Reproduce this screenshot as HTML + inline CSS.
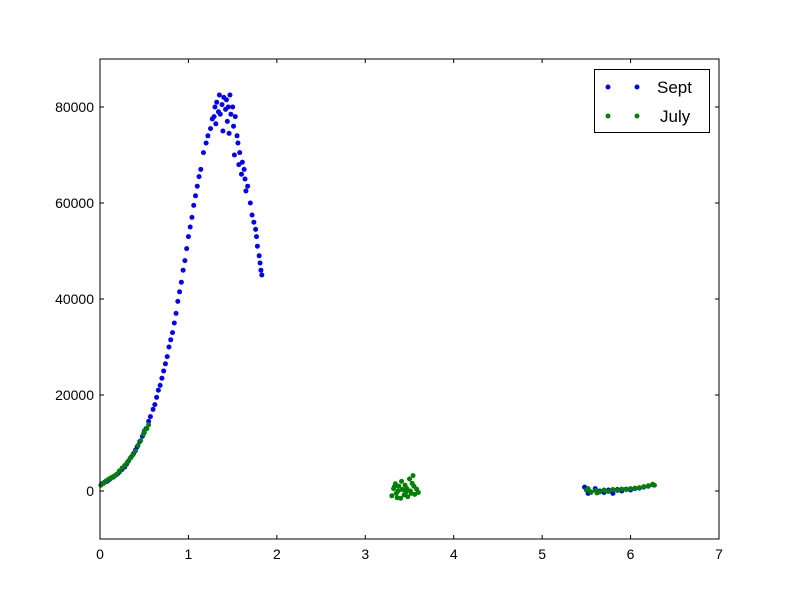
<!DOCTYPE html>
<html><head><meta charset="utf-8"><style>body{margin:0;background:#fff}svg{font-family:"Liberation Sans","DejaVu Sans",sans-serif}</style></head>
<body>
<svg id="chart" width="800" height="600" xmlns="http://www.w3.org/2000/svg">
<rect width="800" height="600" fill="#fff"/>
<g id="marks"></g>
<g id="axes"></g>
</svg>
<script>
const septX=[0.02,0.05,0.08,0.1,0.12,0.15,0.18,0.2,0.22,0.25,0.28,0.3,0.32,0.35,0.38,0.4,0.42,0.45,0.48,0.5,0.52,0.55,0.57,0.6,0.62,0.64,0.66,0.68,0.7,0.72,0.74,0.76,0.78,0.8,0.82,0.84,0.86,0.88,0.9,0.92,0.94,0.96,0.98,1.0,1.02,1.04,1.06,1.08,1.1,1.12,1.14,1.17,1.2,1.22,1.25,1.27,1.29,1.3,1.31,1.32,1.34,1.35,1.36,1.38,1.39,1.4,1.42,1.43,1.44,1.45,1.46,1.47,1.48,1.5,1.51,1.52,1.53,1.55,1.56,1.57,1.58,1.6,1.61,1.63,1.64,1.65,1.67,1.7,1.72,1.74,1.76,1.77,1.78,1.8,1.81,1.82,1.83,5.5,5.55,5.6,5.65,5.7,5.75,5.8,5.85,5.9,5.95,6.0,6.05,6.1,6.15,6.2,6.25,5.48,5.52];
const septY=[1500,1800,2000,2300,2600,2900,3300,3600,4000,4500,5000,5600,6200,7000,7800,8500,9200,10300,11400,12200,13000,14500,15500,17000,18000,19500,21000,22000,23500,25000,26500,28000,30000,31500,33000,35000,37000,39500,41500,43500,46000,48000,50500,53000,55000,57000,59500,61500,63500,65500,67000,70500,72500,74000,75500,77500,78000,80000,76500,81000,79000,82500,78500,80500,75000,82000,79500,81500,77000,80000,74500,82500,78500,80000,76000,70000,78000,74000,72500,68000,70500,66000,68500,67000,65000,62500,63500,60000,57500,56000,54500,53000,51000,49000,47500,46000,45000,300,-200,500,0,-300,200,-500,300,0,400,200,500,600,800,1000,1300,800,-500];
const julyX=[0.01,0.04,0.07,0.1,0.13,0.16,0.19,0.22,0.25,0.28,0.31,0.34,0.37,0.4,0.43,0.46,0.49,0.5,0.53,0.55,3.3,3.32,3.34,3.35,3.37,3.38,3.4,3.41,3.42,3.44,3.45,3.47,3.48,3.5,3.51,3.52,3.54,3.55,3.56,3.58,3.6,3.33,3.36,3.46,3.53,5.5,5.55,5.6,5.65,5.7,5.75,5.8,5.85,5.9,5.95,6.0,6.05,6.1,6.15,6.2,6.25,6.27,5.52,5.62,5.72];
const julyY=[1200,1600,2100,2500,2800,3100,3500,4200,4800,5300,6000,6800,7500,8300,9500,10500,11800,12500,13000,13800,-1000,500,1500,-500,0,1000,-1500,2000,300,-800,1200,500,-1200,2500,0,-500,3200,1000,-700,400,-300,900,-1400,-200,1600,200,-300,100,-200,200,-100,300,100,400,300,500,600,700,900,1100,1400,1200,500,-400,0];
const xTicks=[0,1,2,3,4,5,6,7];
const yTicks=[0,20000,40000,60000,80000];
const L=100,R=719,T=59,B=539,XMIN=0,XMAX=7,YMIN=-10000,YMAX=90000;
const sx=v=>L+(v-XMIN)/(XMAX-XMIN)*(R-L);
const sy=v=>B-(v-YMIN)/(YMAX-YMIN)*(B-T);
const NS="http://www.w3.org/2000/svg";
const marks=document.getElementById('marks'),axes=document.getElementById('axes');
function mk(tag,parent,attrs){const e=document.createElementNS(NS,tag);for(const k in attrs)e.setAttribute(k,attrs[k]);parent.appendChild(e);return e;}
septX.forEach((x,i)=>{const c=mk('circle',marks,{cx:sx(x),cy:sy(septY[i]),r:2.5,fill:'#0000ff'});

});
julyX.forEach((x,i)=>{const c=mk('circle',marks,{cx:sx(x),cy:sy(julyY[i]),r:2.5,fill:'#008000'});

});
const frame=mk('rect',axes,{x:L,y:T,width:R-L,height:B-T,fill:'none',stroke:'#000','stroke-width':1});


xTicks.forEach(t=>{const x=sx(t);
mk('line',axes,{x1:x,x2:x,y1:B,y2:B-4,stroke:'#000'});
mk('line',axes,{x1:x,x2:x,y1:T,y2:T+4,stroke:'#000'});
const tx=mk('text',axes,{x:x,y:B+20,'text-anchor':'middle','font-size':14});tx.textContent=t;

});
yTicks.forEach(t=>{const y=sy(t);
mk('line',axes,{x1:L,x2:L+4,y1:y,y2:y,stroke:'#000'});
mk('line',axes,{x1:R,x2:R-4,y1:y,y2:y,stroke:'#000'});
const tx=mk('text',axes,{x:L-6,y:y+5,'text-anchor':'end','font-size':14});tx.textContent=t;

});
</script>
<svg style="position:absolute;left:0;top:0" width="800" height="600">
<rect x="594.5" y="69.5" width="115" height="63" fill="#fff" stroke="#000"/>
<g><circle cx="608" cy="87" r="2.5" fill="#00f"/><circle cx="637" cy="87" r="2.5" fill="#00f"/><text x="657" y="93" font-size="17" font-family="Liberation Sans, sans-serif">Sept</text></g>
<g><circle cx="608" cy="116" r="2.5" fill="#008000"/><circle cx="637" cy="116" r="2.5" fill="#008000"/><text x="660" y="122" font-size="17" font-family="Liberation Sans, sans-serif">July</text></g>
</svg>
</body></html>
